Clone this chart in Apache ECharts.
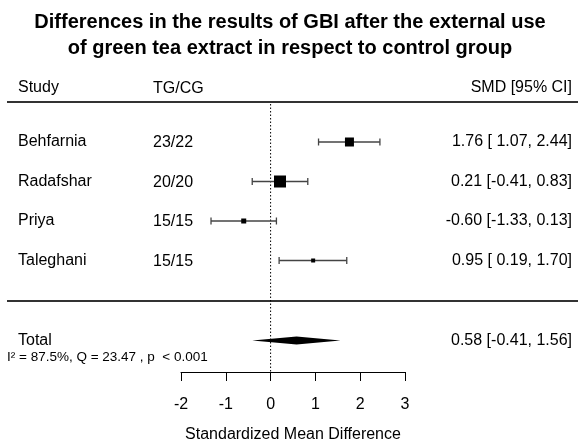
<!DOCTYPE html>
<html>
<head>
<meta charset="utf-8">
<script src="https://cdn.jsdelivr.net/npm/echarts@6/dist/echarts.min.js"></script>
<style>html,body{margin:0;padding:0;background:#fff;}#c{width:580px;height:441px;}</style>
</head>
<body>
<div id="c"></div>
<script>
// ---- data ----
var studies = ['Behfarnia', 'Radafshar', 'Priya', 'Taleghani'];
var groups = ['23/22', '20/20', '15/15', '15/15'];
var smd = [1.76, 0.21, -0.60, 0.95];
var lower = [1.07, -0.41, -1.33, 0.19];
var upper = [2.44, 0.83, 0.13, 1.70];
var weights = [9, 12, 5, 4]; // relative marker weights
var totalLabel = 'Total';
var totalSmd = 0.58, totalLower = -0.41, totalUpper = 1.56;
var heterogeneity = 'I² = 87.5%, Q = 23.47 , p  < 0.001';
var xTicks = [-2, -1, 0, 1, 2, 3];
var titleText = 'Differences in the results of GBI after the external use\nof green tea extract in respect to control group';
var headers = ['Study', 'TG/CG', 'SMD [95% CI]'];

// ---- layout (row positions on the hidden vertical axis, 10px per unit) ----
var rowPos = [4, 7.95, 11.9, 15.85];
var totalPos = 23.85;
var yMax = 27;

function fmt(v) { var s = v.toFixed(2); return v >= 0 ? ' ' + s : s; }
function ciText(m, l, u) { return m.toFixed(2) + ' [' + fmt(l) + ',' + fmt(u) + ']'; }

var FONT = 'Liberation Sans, Arial, sans-serif';
var chart = echarts.init(document.getElementById('c'), null, {renderer: 'canvas'});

var rows = studies.map(function (s, i) {
  return [smd[i], lower[i], upper[i], rowPos[i], weights[i], i];
});

var option = {
  backgroundColor: '#fff',
  animation: false,
  title: {
    text: titleText, left: 'center', top: 4,
    textStyle: {fontFamily: FONT, fontSize: 20, fontWeight: 'bold', color: '#000', lineHeight: 26}
  },
  grid: {left: 181, width: 224, top: 102, height: 270, outerBoundsMode: 'none', containLabel: false},
  xAxis: {
    type: 'value', min: xTicks[0], max: xTicks[xTicks.length - 1], interval: 1,
    axisLine: {show: true, onZero: false, lineStyle: {color: '#000', width: 1}},
    axisTick: {show: true, inside: false, length: 9, lineStyle: {color: '#000'}},
    axisLabel: {fontFamily: FONT, fontSize: 16, color: '#000', margin: 25},
    splitLine: {show: false},
    name: 'Standardized Mean Difference', nameLocation: 'middle', nameGap: 55,
    nameTextStyle: {fontFamily: FONT, fontSize: 16, color: '#000'}
  },
  yAxis: {type: 'value', min: 0, max: yMax, interval: 1, inverse: true, show: false},
  graphic: [
    {type: 'text', left: 18, top: 80, style: {text: headers[0], font: '16px ' + FONT, fill: '#000'}},
    {type: 'text', left: 153, top: 81, style: {text: headers[1], font: '16px ' + FONT, fill: '#000'}},
    {type: 'text', right: 8, top: 80, style: {text: headers[2], font: '16px ' + FONT, fill: '#000', textAlign: 'right'}},
    {type: 'line', shape: {x1: 7, y1: 102, x2: 578, y2: 102}, style: {stroke: '#333', lineWidth: 2}},
    {type: 'line', shape: {x1: 7, y1: 301, x2: 578, y2: 301}, style: {stroke: '#333', lineWidth: 2}}
  ],
  series: [
    {
      // reference line at zero
      type: 'line', data: [[0, 0.2], [0, yMax]], symbol: 'none',
      lineStyle: {color: '#000', width: 1, type: [1.5, 2]}, z: 1
    },
    {
      type: 'custom', clip: false, z: 3,
      data: rows,
      renderItem: function (params, api) {
        var m = api.value(0), l = api.value(1), u = api.value(2), r = api.value(3), w = api.value(4), idx = api.value(5);
        var pm = api.coord([m, r]), pl = api.coord([l, r]), pu = api.coord([u, r]);
        var y = pm[1];
        var cap = 3.5;
        return {
          type: 'group', children: [
            {type: 'line', shape: {x1: pl[0], y1: y, x2: pu[0], y2: y}, style: {stroke: '#444', lineWidth: 1.3}},
            {type: 'line', shape: {x1: pl[0], y1: y - cap, x2: pl[0], y2: y + cap}, style: {stroke: '#444', lineWidth: 1.3}},
            {type: 'line', shape: {x1: pu[0], y1: y - cap, x2: pu[0], y2: y + cap}, style: {stroke: '#444', lineWidth: 1.3}},
            {type: 'rect', shape: {x: pm[0] - w / 2, y: y - w / 2, width: w, height: w}, style: {fill: '#000'}},
            {type: 'text', x: 18, y: y, style: {text: studies[idx], font: '16px ' + FONT, fill: '#000', textVerticalAlign: 'middle'}},
            {type: 'text', x: 153, y: y + 1, style: {text: groups[idx], font: '16px ' + FONT, fill: '#000', textVerticalAlign: 'middle'}},
            {type: 'text', x: 572, y: y, style: {text: ciText(m, l, u), font: '16px ' + FONT, fill: '#000', textAlign: 'right', textVerticalAlign: 'middle'}}
          ]
        };
      }
    },
    {
      type: 'custom', clip: false, z: 3,
      data: [[totalSmd, totalLower, totalUpper, totalPos]],
      renderItem: function (params, api) {
        var r = api.value(3);
        var pm = api.coord([api.value(0), r]), pl = api.coord([api.value(1), r]), pu = api.coord([api.value(2), r]);
        var y = pm[1], h = 4;
        return {
          type: 'group', children: [
            {type: 'polygon', shape: {points: [[pl[0], y], [pm[0], y - h], [pu[0], y], [pm[0], y + h]]}, style: {fill: '#000'}},
            {type: 'text', x: 18, y: y, style: {text: totalLabel, font: '16px ' + FONT, fill: '#000', textVerticalAlign: 'middle'}},
            {type: 'text', x: 572, y: y, style: {text: ciText(api.value(0), api.value(1), api.value(2)), font: '16px ' + FONT, fill: '#000', textAlign: 'right', textVerticalAlign: 'middle'}},
            {type: 'text', x: 7, y: y + 17, style: {text: heterogeneity, font: '13.5px ' + FONT, fill: '#000', textVerticalAlign: 'middle'}}
          ]
        };
      }
    }
  ]
};
chart.setOption(option);
</script>
</body>
</html>
